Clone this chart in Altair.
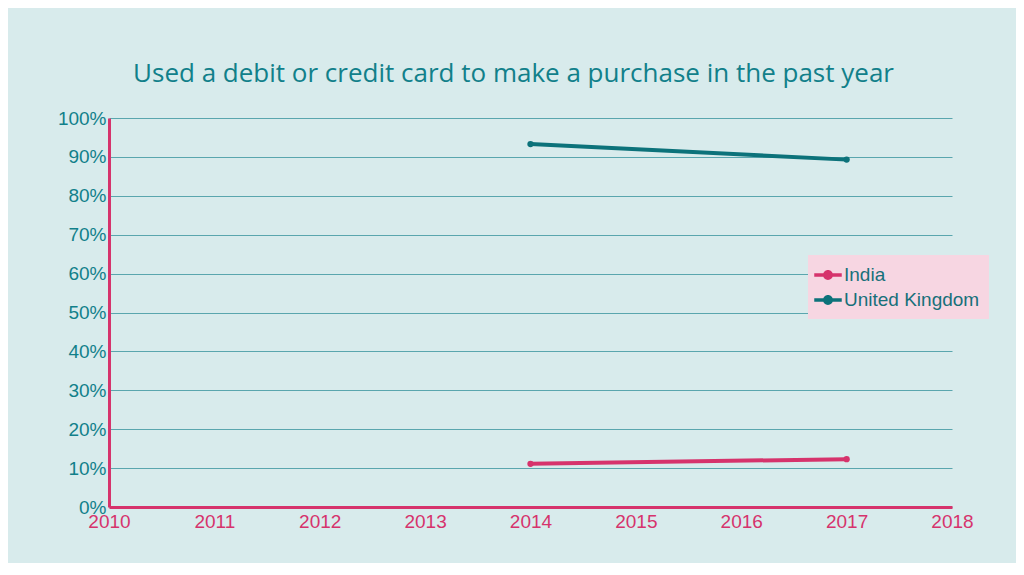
import altair as alt
import pandas as pd

countries = ["India", "India", "United Kingdom", "United Kingdom"]
years = [2014, 2017, 2014, 2017]
shares = [0.111, 0.123, 0.933, 0.893]

data = pd.DataFrame({"country": countries, "year": years, "share": shares})

series_colors = ["#d6336c", "#0c727a"]
teal = "#11808a"
pink = "#d6336c"

# line with a dot in the middle, like the reference legend
legend_symbol = (
    "M-1.25,-0.16 L1.25,-0.16 L1.25,0.16 L-1.25,0.16 Z "
    "M0.45,0 A0.45,0.45 0 1 1 -0.45,0 A0.45,0.45 0 1 1 0.45,0 Z"
)

color = alt.Color(
    "country:N",
    scale=alt.Scale(domain=["India", "United Kingdom"], range=series_colors),
    legend=alt.Legend(
        title=None,
        orient="none",
        legendX=699,
        legendY=137,
        fillColor="#f7d6e2",
        padding=9,
        labelFont="Liberation Sans",
        labelFontSize=19,
        labelColor="#17707a",
        symbolType=legend_symbol,
        symbolSize=484,
        symbolStrokeWidth=0,
        rowPadding=4,
        labelOffset=5,
    ),
)

x = alt.X(
    "year:Q",
    scale=alt.Scale(domain=[2010, 2018], nice=False),
    axis=alt.Axis(
        title=None,
        values=list(range(2010, 2019)),
        format="d",
        grid=False,
        ticks=False,
        domainColor=pink,
        domainWidth=3,
        labelColor=pink,
        labelFont="Liberation Sans",
        labelFontSize=19,
        labelPadding=5,
        labelFlush=False,
    ),
)
y = alt.Y(
    "share:Q",
    scale=alt.Scale(domain=[0, 1], nice=False),
    axis=alt.Axis(
        title=None,
        format=".0%",
        values=[i / 10 for i in range(11)],
        ticks=False,
        gridColor="#5aa6ae",
        gridWidth=1,
        domainColor=pink,
        domainWidth=3,
        labelColor=teal,
        labelFont="Liberation Sans",
        labelFontSize=19,
        labelPadding=3,
    ),
)

base = alt.Chart(data).encode(x=x, y=y, color=color)
lines = base.mark_line(strokeWidth=4)
points = base.mark_point(filled=True, size=40, opacity=1)

chart = (
    alt.layer(lines, points)
    .properties(
        width=843,
        height=389,
        background="#d8ebec",
        padding={"left": 101, "top": 110, "right": 64, "bottom": 56},
        autosize=alt.AutoSizeParams(type="none"),
        title=alt.TitleParams(
            "Used a debit or credit card to make a purchase in the past year",
            font="Open Sans",
            fontSize=26,
            fontWeight="normal",
            color=teal,
            anchor="middle",
            dx=-17,
            offset=22,
        ),
    )
    .configure_view(stroke=None)
)

chart.save("out.html", embed_options={"renderer": "svg", "actions": False})
